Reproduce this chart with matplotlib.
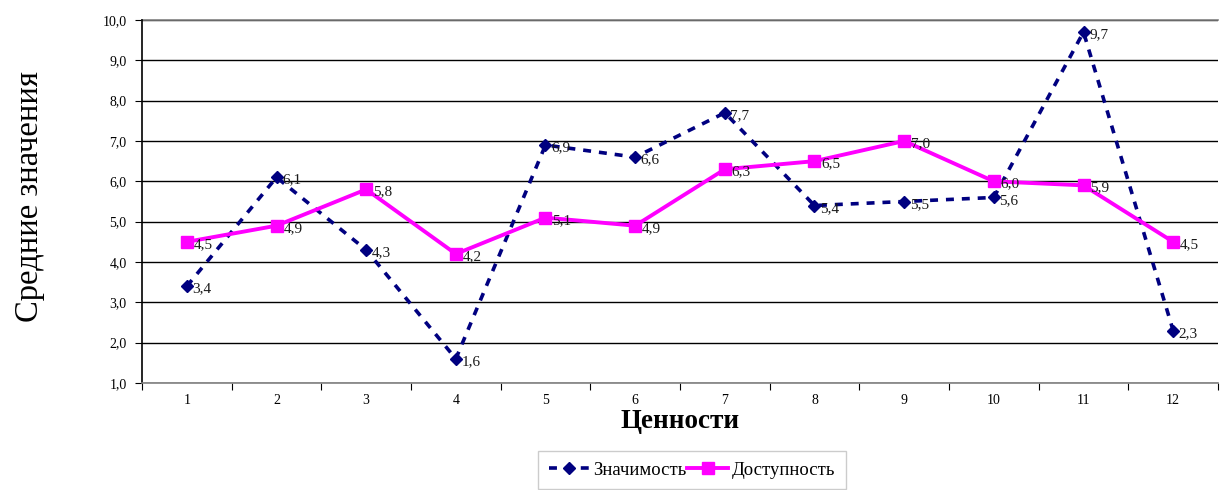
import matplotlib
matplotlib.use("Agg")
import matplotlib.pyplot as plt
import numpy as np

# ---------------------------------------------------------------------------
# Data
# ---------------------------------------------------------------------------
categories = [1, 2, 3, 4, 5, 6, 7, 8, 9, 10, 11, 12]
znachimost = [3.4, 6.1, 4.3, 1.6, 6.9, 6.6, 7.7, 5.4, 5.5, 5.6, 9.7, 2.3]
dostupnost = [4.5, 4.9, 5.8, 4.2, 5.1, 4.9, 6.3, 6.5, 7.0, 6.0, 5.9, 4.5]
series_names = ["Значимость", "Доступность"]
y_ticks = [1, 2, 3, 4, 5, 6, 7, 8, 9, 10]

plt.rcParams["font.family"] = ["Liberation Serif", "DejaVu Serif"]

NAVY = "#000080"
MAGENTA = "#FF00FF"


def fmt(v):
    return f"{v:.1f}".replace(".", ",")


fig = plt.figure(figsize=(12.3, 4.9), dpi=100)
ax = fig.add_axes([142 / 1230, 1 - 383 / 490, (1218 - 142) / 1230, (383 - 20) / 490])

x = np.array(categories)
l1, = ax.plot(x, znachimost, color=NAVY, linestyle=(0, (2.2, 2.2)), linewidth=2.6,
              marker="D", markersize=6.5, markerfacecolor=NAVY, markeredgecolor=NAVY,
              label=series_names[0], zorder=3)
l2, = ax.plot(x, dostupnost, color=MAGENTA, linewidth=2.8,
              marker="s", markersize=9, markerfacecolor=MAGENTA, markeredgecolor=MAGENTA,
              label=series_names[1], zorder=4)

for xi, v in zip(x, znachimost):
    ax.annotate(fmt(v), (xi, v), xytext=(4, -2), textcoords="offset points",
                ha="left", va="center", fontsize=11, color="#1a1a1a", zorder=5)
for xi, v in zip(x, dostupnost):
    ax.annotate(fmt(v), (xi, v), xytext=(5, -2), textcoords="offset points",
                ha="left", va="center", fontsize=11, color="#1a1a1a", zorder=5)

ax.set_xlim(0.5, 12.5)
ax.set_ylim(1, 10)
ax.set_yticks(y_ticks)
ax.set_yticklabels([fmt(v) for v in y_ticks], fontsize=10)
ax.yaxis.grid(True, color="black", linewidth=1.0)
ax.set_axisbelow(True)

# category boundaries get the tick marks, centres carry the labels
ax.set_xticks(np.arange(0.5, 13.0, 1.0))
ax.set_xticklabels([])
ax.set_xticks(x, minor=True)
ax.set_xticklabels([str(c) for c in categories], minor=True, fontsize=10)
ax.tick_params(axis="x", which="major", length=5, direction="out", color="black")
ax.tick_params(axis="x", which="minor", length=0, pad=8)
ax.tick_params(axis="y", length=5, direction="out", pad=6)

for side in ["top", "right"]:
    ax.spines[side].set_visible(False)
ax.spines["left"].set_color("black")
ax.spines["bottom"].set_color("#808080")
ax.spines["left"].set_linewidth(1.2)
ax.spines["bottom"].set_linewidth(1.2)
ax.axhline(10, color="#808080", linewidth=1.2, clip_on=False)

ax.set_xlabel("Ценности", fontsize=19.5, fontweight="bold", labelpad=1)
fig.text(30 / 1230, 1 - 196 / 490, "Средние значения", rotation=90,
         fontsize=23.5, ha="center", va="center")

leg = fig.legend(handles=[l1, l2], loc="center",
                 bbox_to_anchor=(692 / 1230, 1 - 470 / 490), ncol=2,
                 fontsize=13.5, frameon=True, fancybox=False, handlelength=2.2,
                 columnspacing=0.0, handletextpad=0.2, borderpad=0.55)
leg.get_frame().set_edgecolor("#c0c0c0")
leg.get_frame().set_linewidth(1.0)

fig.savefig("out.png", dpi=100)
